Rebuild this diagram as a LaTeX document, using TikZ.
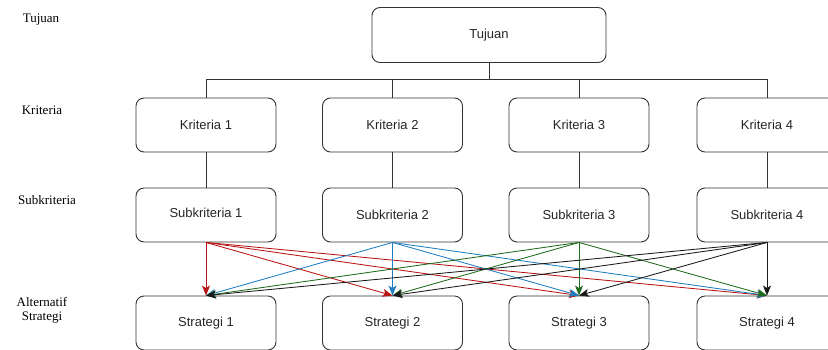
\documentclass[tikz,border=0pt]{standalone}
\usepackage{fontspec}
\setmainfont{Liberation Serif}
\setsansfont{Liberation Sans}
\usetikzlibrary{arrows.meta}
\definecolor{cred}{HTML}{B81414}
\definecolor{cblue}{HTML}{1F7EC1}
\definecolor{cgreen}{HTML}{1E6B1E}
\definecolor{cblack}{HTML}{1A1A1A}
\definecolor{boxline}{HTML}{333333}
\begin{document}
\begin{tikzpicture}[x=1pt,y=-1pt,
  box/.style={draw=boxline, rounded corners=8pt, line width=0.9pt,
    minimum width=140pt, minimum height=54pt, inner sep=0pt,
    font=\sffamily\fontsize{13}{15}\selectfont, text=black!85},
  tree/.style={draw=boxline, line width=0.9pt},
  lvl/.style={font=\rmfamily\fontsize{13}{15}\selectfont, text=black, align=center, inner sep=0pt},
  arr/.style={line width=0.85pt, -{Stealth[length=10pt,width=8pt,inset=2.5pt]}}
]
\useasboundingbox (0,0) rectangle (828,349);

% level labels
\node[lvl] (lt) at (41,20) {Tujuan};
\node[lvl] (lk) at (42,110) {Kriteria};
\node[lvl] (ls) at (47,200) {Subkriteria};
\node[lvl] (la) at (42,310) {Alternatif\\[-1pt]Strategi};

% goal
\node[box, minimum width=234pt, minimum height=55pt] (t) at (489,35) {Tujuan};

% criteria
\node[box] (k1) at (206,125) {Kriteria 1};
\node[box] (k2) at (392.5,125) {Kriteria 2};
\node[box] (k3) at (579,125) {Kriteria 3};
\node[box] (k4) at (767,125) {Kriteria 4};

% subcriteria
\node[box] (s1) at (206,215) {\raisebox{4pt}{Subkriteria 1}};
\node[box] (s2) at (392.5,215) {\raisebox{-2pt}{Subkriteria 2}};
\node[box] (s3) at (579,215) {Subkriteria 3};
\node[box] (s4) at (767,215) {\raisebox{1pt}{Subkriteria 4}};

% strategies
\node[box] (a1) at (206,323) {Strategi 1};
\node[box] (a2) at (392.5,323) {Strategi 2};
\node[box] (a3) at (579,323) {Strategi 3};
\node[box] (a4) at (767,323) {Strategi 4};

% tree
\coordinate (bus) at (0,79);
\draw[tree] (t.south) -- (t.south |- bus);
\draw[tree] (k1.north) -- (k1.north |- bus) -- (k4.north |- bus) -- (k4.north);
\draw[tree] (k2.north) -- (k2.north |- bus);
\draw[tree] (k3.north) -- (k3.north |- bus);
\foreach \i in {1,2,3,4} {
  \draw[tree] (k\i.south) -- (s\i.north);
}

% connections subcriteria -> strategies
\foreach \j in {1,2,3,4} {
  \draw[arr, cred]   (s1.south) -- (a\j.north);
}
\foreach \j in {1,2,3,4} {
  \draw[arr, cblue]  (s2.south) -- (a\j.north);
}
\foreach \j in {1,2,3,4} {
  \draw[arr, cgreen] (s3.south) -- (a\j.north);
}
\foreach \j in {1,2,3,4} {
  \draw[arr, cblack] (s4.south) -- (a\j.north);
}
\end{tikzpicture}
\end{document}
